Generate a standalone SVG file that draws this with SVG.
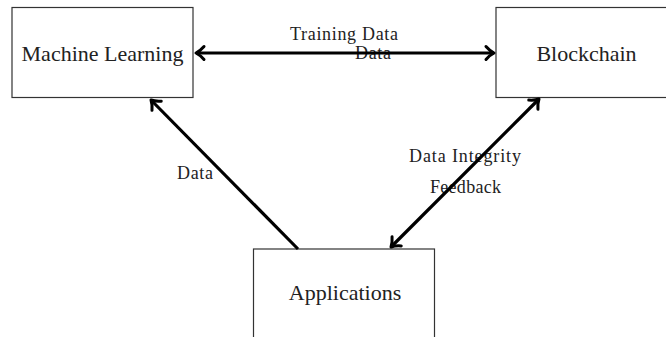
<svg xmlns="http://www.w3.org/2000/svg" width="666" height="337" viewBox="0 0 666 337">
  <style>
    .box { fill: #ffffff; stroke: #333333; stroke-width: 1.2; }
    .node-label { font-family: "Liberation Serif", "DejaVu Serif", serif; font-size: 22px; fill: #222222; text-anchor: middle; }
    .edge-label { font-family: "Liberation Serif", "DejaVu Serif", serif; font-size: 18px; fill: #222222; }
    .edge { stroke: #000000; stroke-width: 3.2; fill: none; }
  </style>
  <defs>
    <marker id="tip" markerUnits="userSpaceOnUse" markerWidth="20" markerHeight="20" viewBox="-12 -10 16 20" refX="0" refY="0" orient="auto-start-reverse" overflow="visible">
      <path d="M -8 -6.5 C -5 -3 -2 -1 0 0 C -2 1 -5 3 -8 6.5" fill="none" stroke="#000000" stroke-width="3" stroke-linecap="round" stroke-linejoin="round"/>
    </marker>
  </defs>
  <rect width="666" height="337" fill="#ffffff"/>

  <g id="node-ml">
    <rect class="box" x="12" y="7.5" width="181" height="90"/>
    <text class="node-label" x="102.5" y="61">Machine Learning</text>
  </g>
  <g id="node-blockchain">
    <rect class="box" x="496" y="7.5" width="181" height="90"/>
    <text class="node-label" x="586.5" y="61">Blockchain</text>
  </g>
  <g id="node-applications">
    <rect class="box" x="253.5" y="249" width="181" height="90"/>
    <text class="node-label" x="345" y="300">Applications</text>
  </g>

  <g id="edge-labels">
    <text class="edge-label" x="290" y="40" textLength="108">Training Data</text>
    <text class="edge-label" x="355" y="59" textLength="36">Data</text>
    <text class="edge-label" x="177" y="179" textLength="36">Data</text>
    <text class="edge-label" x="409" y="162" textLength="112">Data Integrity</text>
    <text class="edge-label" x="430" y="193" textLength="71">Feedback</text>
  </g>

  <g id="connectors">
    <line class="edge" x1="196" y1="53" x2="494" y2="53" marker-start="url(#tip)" marker-end="url(#tip)"/>
    <line class="edge" x1="298" y1="249" x2="151" y2="100" marker-end="url(#tip)"/>
    <line class="edge" x1="391" y1="247" x2="539" y2="99" marker-start="url(#tip)" marker-end="url(#tip)"/>
  </g>
</svg>
